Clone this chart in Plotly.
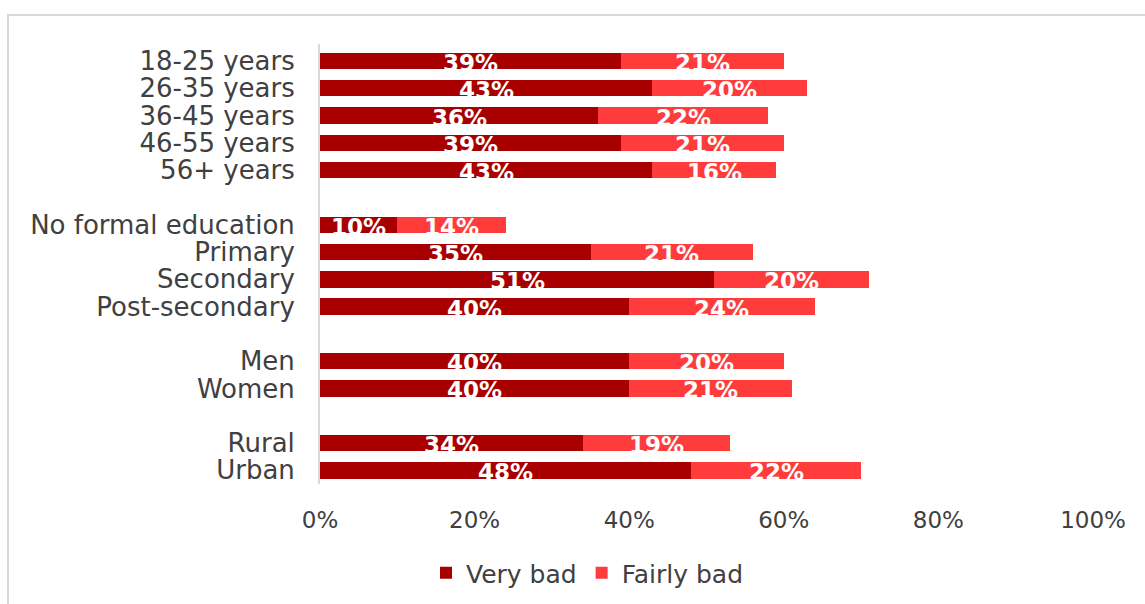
import plotly.graph_objects as go

categories = ["18-25 years", "26-35 years", "36-45 years", "46-55 years", "56+ years", " ",
              "No formal education", "Primary", "Secondary", "Post-secondary", "  ",
              "Men", "Women", "   ",
              "Rural", "Urban"]
very_bad = [39, 43, 36, 39, 43, None, 10, 35, 51, 40, None, 40, 40, None, 34, 48]
fairly_bad = [21, 20, 22, 21, 16, None, 14, 21, 20, 24, None, 20, 21, None, 19, 22]
x_ticks = [0, 20, 40, 60, 80, 100]
x_tick_labels = ["0%", "20%", "40%", "60%", "80%", "100%"]

C_VERY = "#A80000"
C_FAIR = "#FF3B3B"
FONT = "DejaVu Sans"
GRAY = "#404040"

fig = go.Figure()
fig.add_trace(go.Bar(y=categories, x=very_bad, orientation="h", name="Very bad",
                     marker=dict(color=C_VERY, line=dict(width=0)), width=0.6))
fig.add_trace(go.Bar(y=categories, x=fairly_bad, orientation="h", name="Fairly bad",
                     marker=dict(color=C_FAIR, line=dict(width=0)), width=0.6))

annotations = []
for cat, v, f in zip(categories, very_bad, fairly_bad):
    if v is None:
        continue
    annotations.append(dict(x=v / 2, y=cat, xref="x", yref="y", text=f"<b>{v}%</b>",
                            showarrow=False, yshift=-2,
                            font=dict(family=FONT, size=23, color="white")))
    annotations.append(dict(x=v + f / 2, y=cat, xref="x", yref="y", text=f"<b>{f}%</b>",
                            showarrow=False, yshift=-2,
                            font=dict(family=FONT, size=23, color="white")))

L, R, T, B = 320, 52, 44, 120
W, H = 1145, 604
pw = W - L - R
ph = H - T - B

fig.update_layout(
    barmode="stack",
    width=W, height=H,
    margin=dict(l=L, r=R, t=T, b=B, autoexpand=False),
    paper_bgcolor="white", plot_bgcolor="white",
    font=dict(family=FONT, size=24, color=GRAY),
    annotations=annotations,
    legend=dict(orientation="h", x=(587 - L) / pw, xanchor="center",
                y=(H - B - 573) / ph, yanchor="middle",
                font=dict(family=FONT, size=25, color=GRAY),
                itemwidth=30, traceorder="normal"),
    shapes=[dict(type="rect", xref="paper", yref="paper",
                 x0=(8 - L) / pw, x1=1.2, y0=-0.5, y1=(H - B - 15) / ph,
                 line=dict(color="#D9D9D9", width=2), fillcolor="rgba(0,0,0,0)", layer="below")],
    xaxis=dict(range=[0, 100], tickvals=x_ticks, ticktext=x_tick_labels, showgrid=False,
               zeroline=False, showline=False, ticks="", ticklabelstandoff=20,
               automargin=False,
               tickfont=dict(family=FONT, size=23, color=GRAY), fixedrange=True),
    yaxis=dict(type="category", categoryorder="array", categoryarray=categories,
               tickmode="array", tickvals=categories, ticktext=categories,
               autorange="reversed", showgrid=False, zeroline=False, automargin=False,
               showline=True, linecolor="#D9D9D9", linewidth=2, ticks="",
               ticklabelstandoff=18,
               tickfont=dict(family=FONT, size=26, color=GRAY)),
)

fig.write_html("out.html")
